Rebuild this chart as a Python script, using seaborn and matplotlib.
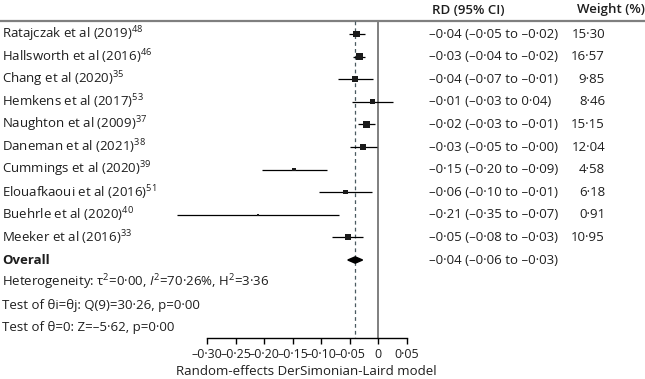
import numpy as np
import pandas as pd
import matplotlib
matplotlib.use("Agg")
import matplotlib.pyplot as plt
import seaborn as sns

# ---- data ----
studies = [
    "Ratajczak et al (2019)$^{48}$",
    "Hallsworth et al (2016)$^{46}$",
    "Chang et al (2020)$^{35}$",
    "Hemkens et al (2017)$^{53}$",
    "Naughton et al (2009)$^{37}$",
    "Daneman et al (2021)$^{38}$",
    "Cummings et al (2020)$^{39}$",
    "Elouafkaoui et al (2016)$^{51}$",
    "Buehrle et al (2020)$^{40}$",
    "Meeker et al (2016)$^{33}$",
]
rd = [-0.037, -0.033, -0.040, -0.010, -0.020, -0.026, -0.147, -0.057, -0.210, -0.052]
ci_low = [-0.051, -0.043, -0.071, -0.045, -0.035, -0.050, -0.203, -0.103, -0.352, -0.080]
ci_high = [-0.023, -0.023, -0.009, 0.026, -0.005, -0.001, -0.090, -0.011, -0.068, -0.026]
weights = [15.30, 16.57, 9.85, 8.46, 15.15, 12.04, 4.58, 6.18, 0.91, 10.95]

rd_text = [
    "–0·04 (–0·05 to –0·02)",
    "–0·03 (–0·04 to –0·02)",
    "–0·04 (–0·07 to –0·01)",
    "–0·01 (–0·03 to 0·04)",
    "–0·02 (–0·03 to –0·01)",
    "–0·03 (–0·05 to –0·00)",
    "–0·15 (–0·20 to –0·09)",
    "–0·06 (–0·10 to –0·01)",
    "–0·21 (–0·35 to –0·07)",
    "–0·05 (–0·08 to –0·03)",
]
weight_text = ["15·30", "16·57", "9·85", "8·46", "15·15", "12·04", "4·58", "6·18", "0·91", "10·95"]

overall_rd = -0.040
overall_low = -0.053
overall_high = -0.027
overall_text = "–0·04 (–0·06 to –0·03)"

stats_lines = [
    "Heterogeneity: τ$^2$=0·00, $I^2$=70·26%, H$^2$=3·36",
    "Test of θi=θj: Q(9)=30·26, p=0·00",
    "Test of θ=0: Z=–5·62, p=0·00",
]
xticks = [-0.30, -0.25, -0.20, -0.15, -0.10, -0.05, 0, 0.05]

sns.set_style("white")
plt.rcParams["font.family"] = ["Open Sans", "DejaVu Sans"]
plt.rcParams["mathtext.fontset"] = "custom"
plt.rcParams["mathtext.rm"] = "Open Sans"
plt.rcParams["mathtext.it"] = "Open Sans:italic"
plt.rcParams["mathtext.bf"] = "Open Sans:bold"

FS = 9.5
TEXT_C = "#1e1e1e"
W, H = 645, 379
# pixel -> data helpers (axes spans the whole figure)
x_per_px = 1 / 570.0
x0_px = 378
row0_px, row_h = 34, 22.6

fig = plt.figure(figsize=(W / 100, H / 100), dpi=100)
ax = fig.add_axes([0, 0, 1, 1])
ax.set_xlim((0 - x0_px) * x_per_px, (W - x0_px) * x_per_px)
ax.set_ylim((H - row0_px) / row_h, (0 - row0_px) / row_h)

df = pd.DataFrame({"study": studies, "rd": rd, "lo": ci_low, "hi": ci_high, "w": weights})
df["row"] = np.arange(len(df))

top_y = (21 - row0_px) / row_h
axis_y = (338 - row0_px) / row_h

# header rule, reference lines
ax.axhline(top_y, color="#7f7f7f", lw=1.6, zorder=1)
ax.plot([0, 0], [top_y, axis_y], color="#7f7f7f", lw=1.4, zorder=1)
ax.plot([overall_rd, overall_rd], [top_y, axis_y], color="#4a5a60", lw=0.9,
        ls=(0, (3, 2.5)), zorder=1)

# confidence intervals
ax.hlines(df["row"], df["lo"], df["hi"], color="black", lw=0.9, zorder=2)

# weighted squares (area proportional to weight)
k = 1.6
sns.scatterplot(data=df, x="rd", y="row", size="w", sizes=(k * min(weights), k * max(weights)),
                size_norm=(min(weights), max(weights)), marker="s", color="#1a1a1a",
                edgecolor="none", legend=False, ax=ax, zorder=3)

# overall diamond
orow = len(df)
dh = 0.14
ax.fill([overall_low, overall_rd, overall_high, overall_rd],
        [orow, orow - dh, orow, orow + dh], color="black", zorder=3)

# left column text
yt = ax.get_yaxis_transform()
for i, s in enumerate(studies):
    ax.text(2 / W, i, s, transform=yt, va="center", ha="left", fontsize=FS, color=TEXT_C)
ax.text(2 / W, orow, "Overall", transform=yt, va="center", ha="left", fontsize=FS,
        fontweight="bold", color=TEXT_C)
for j, s in enumerate(stats_lines):
    ax.text(2 / W, orow + 1 + j, s, transform=yt, va="center", ha="left", fontsize=FS, color=TEXT_C)

# right columns
head_y = (10 - row0_px) / row_h
ax.text(432 / W, head_y, "RD (95% CI)", transform=yt, va="center", ha="left", fontsize=FS,
        fontweight="semibold", color=TEXT_C)
ax.text(577 / W, head_y, "Weight (%)", transform=yt, va="center", ha="left", fontsize=FS,
        fontweight="semibold", color=TEXT_C)
for i in range(len(studies)):
    ax.text(429 / W, i, rd_text[i], transform=yt, va="center", ha="left", fontsize=FS, color=TEXT_C)
    ax.text(605 / W, i, weight_text[i], transform=yt, va="center", ha="right", fontsize=FS, color=TEXT_C)
ax.text(429 / W, orow, overall_text, transform=yt, va="center", ha="left", fontsize=FS, color=TEXT_C)

# bottom axis
for sp in ["top", "right", "left"]:
    ax.spines[sp].set_visible(False)
ax.spines["bottom"].set_position(("data", axis_y))
ax.spines["bottom"].set_bounds(xticks[0], xticks[-1])
ax.spines["bottom"].set_color("black")
ax.spines["bottom"].set_linewidth(1.0)
ax.set_yticks([])
ax.set_xticks(xticks)
ax.set_xticklabels([("–" if t < 0 else "") + (f"{abs(t):.2f}".replace(".", "·") if t != 0 else "0")
                    for t in xticks], fontsize=FS - 0.6, color=TEXT_C)
ax.tick_params(axis="x", direction="out", length=4.5, width=1.0, color="black", pad=3, bottom=True)
ax.set_xlabel("")
ax.set_ylabel("")
ax.text(np.mean([xticks[0], xticks[-1]]), (371 - row0_px) / row_h, "Random-effects DerSimonian-Laird model",
        ha="center", va="center", fontsize=FS, color=TEXT_C)

fig.savefig("out.png", dpi=100)
